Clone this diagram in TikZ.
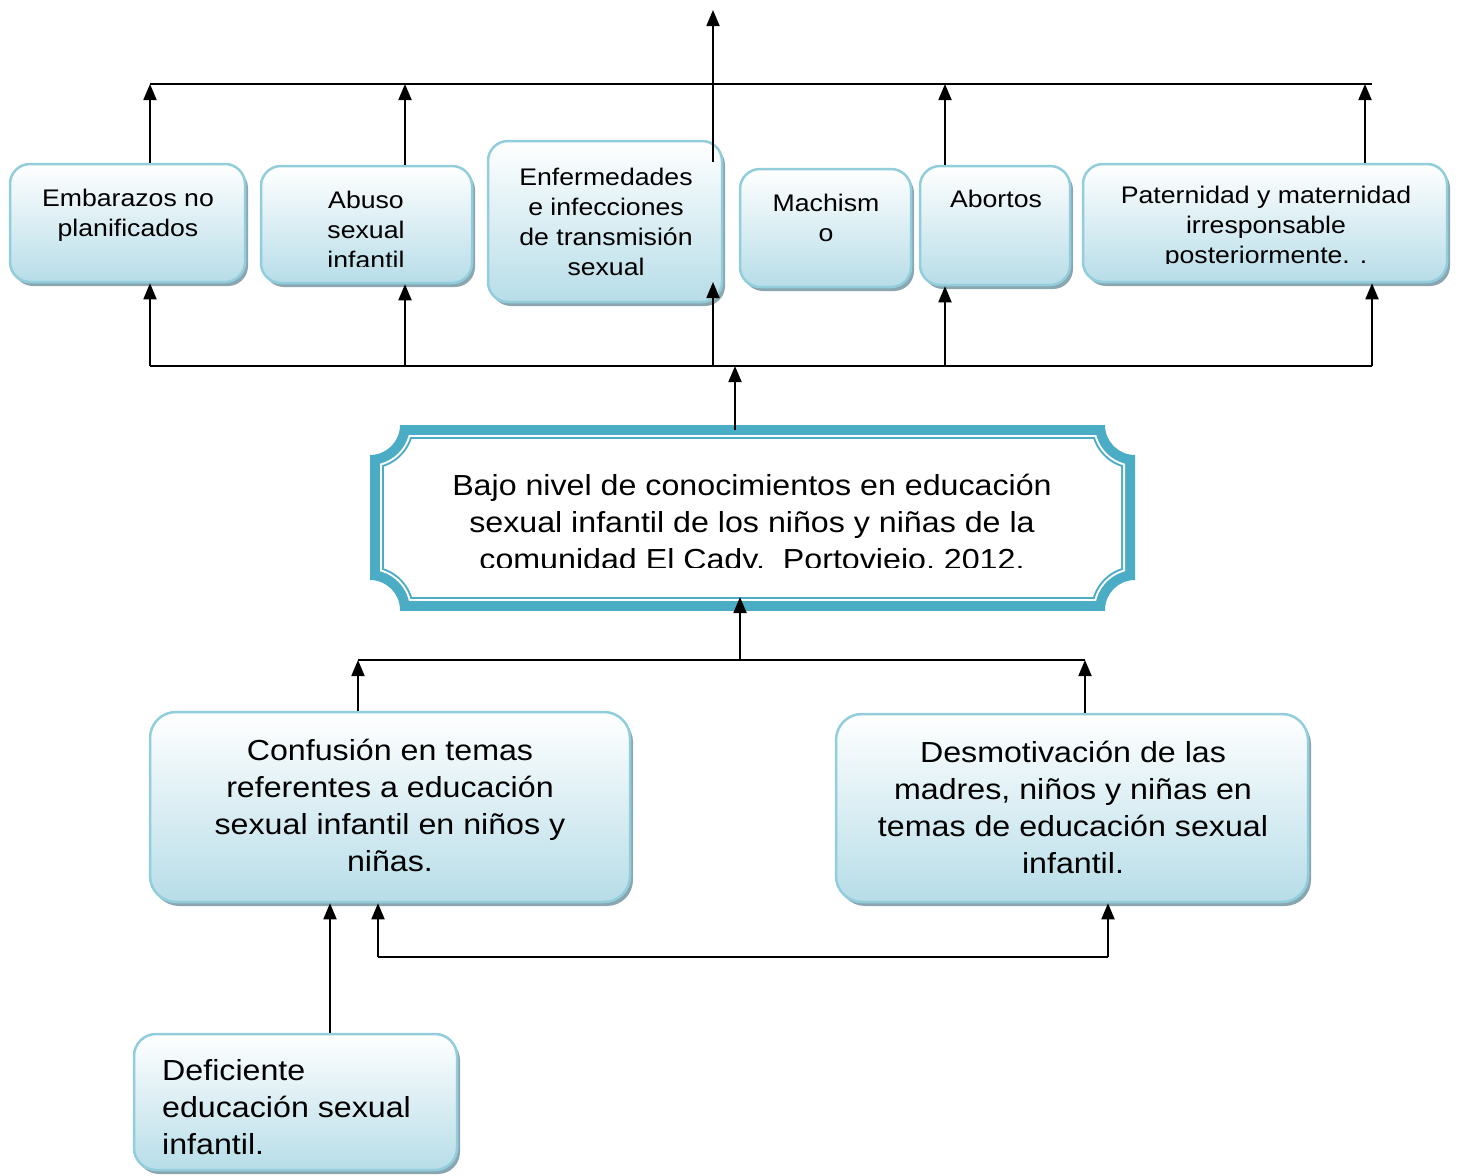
\documentclass[tikz,border=0pt]{standalone}
\usepackage{fontspec}
\setmainfont[FakeStretch=1.11]{Liberation Sans}
\usetikzlibrary{arrows.meta,shadows,calc}
\definecolor{bxborder}{RGB}{146,205,220}
\definecolor{bxbottom}{RGB}{183,221,232}
\definecolor{bxshadow}{RGB}{138,166,176}
\definecolor{plaquec}{RGB}{75,172,198}
\newcommand\plaquefill[2]{%
\begin{scope}
\clip ({370+#1},{425+#1}) rectangle ({1135-#1},{610-#1});
\fill[#2, even odd rule] ({368+#1},{423+#1}) rectangle ({1137-#1},{612-#1})
  (370,425) circle[radius={30pt+#1pt}] (1135,425) circle[radius={30pt+#1pt}]
  (370,610) circle[radius={30pt+#1pt}] (1135,610) circle[radius={30pt+#1pt}];
\end{scope}}
\begin{document}
\begin{tikzpicture}[x=1pt,y=-1pt,
  bx/.style={draw=bxborder, line width=2.5pt, rounded corners=20pt, top color=white, bottom color=bxbottom,
    drop shadow={shadow xshift=3pt,shadow yshift=-4pt,fill=bxshadow,opacity=1}, inner sep=0pt},
  txt/.style={font=\fontsize{24}{30}\selectfont, align=center, inner sep=0pt},
  bigtxt/.style={font=\fontsize{29}{37}\selectfont, align=center, inner sep=0pt},
  ln/.style={line width=1.8pt},
  arr/.style={line width=1.8pt, -{Triangle[width=13pt,length=16pt]}}]
\useasboundingbox (0,0) rectangle (1460,1176);
% top boxes
\node[bx, minimum width=235pt, minimum height=118pt] (emb) at (127.5,223) {};
\node[bx, minimum width=211pt, minimum height=117pt] (abu) at (366.5,224.5) {};
\node[bx, minimum width=234pt, minimum height=161pt] (enf) at (605,221.5) {};
\node[bx, minimum width=171pt, minimum height=118pt] (mac) at (825.5,228) {};
\node[bx, minimum width=150pt, minimum height=119pt] (abo) at (995,225.5) {};
\node[bx, minimum width=364pt, minimum height=118pt] (pat) at (1265,223) {};
\node[txt] (embt) at (128,215) {Embarazos no\\planificados};
\begin{scope}
\clip (261,166) rectangle (472,266);
\node[txt] (abut) at (366,230) {Abuso\\sexual\\infantil};
\end{scope}
\node[txt] (enft) at (606,222) {Enfermedades\\e infecciones\\de transmisión\\sexual};
\node[txt] (mact) at (826,218) {Machism\\o};
\node[txt] (abot) at (996,199) {Abortos};
\begin{scope}
\clip (1083,164) rectangle (1447,263);
\node[txt] (patt) at (1266,227) {Paternidad y maternidad\\irresponsable\\posteriormente. .};
\end{scope}
% central plaque
\node[minimum width=765pt, minimum height=185pt, inner sep=0pt] (prob) at (752.5,517.5) {};
\plaquefill{0}{plaquec}
\plaquefill{10}{white}
\plaquefill{12}{plaquec}
\plaquefill{14}{white}
\begin{scope}
\clip (370,425) rectangle (1135,567);
\node[bigtxt] (probt) at (752,525) {Bajo nivel de conocimientos en educación\\sexual infantil de los niños y niñas de la\\comunidad El Cady.~~Portoviejo, 2012.};
\end{scope}
% bottom boxes
\node[bx, rounded corners=26pt, minimum width=480pt, minimum height=190pt] (conf) at (390,807) {};
\node[bx, rounded corners=26pt, minimum width=472pt, minimum height=188pt] (desm) at (1072,808) {};
\node[bx, rounded corners=22pt, minimum width=323pt, minimum height=136pt] (def) at (295.5,1102) {};
\node[bigtxt] (conft) at (390,805.5) {Confusión en temas\\referentes a educación\\sexual infantil en niños y\\niñas.};
\node[bigtxt] (desmt) at (1073,807) {Desmotivación de las\\madres, niños y niñas en\\temas de educación sexual\\infantil.};
\node[bigtxt, align=left, anchor=west] (deft) at (162,1107) {Deficiente\\educación sexual\\infantil.};
% top connectors
\coordinate (tl) at (150,84); \coordinate (tr) at (1372,84);
\coordinate (ta) at (405,84); \coordinate (tc) at (945,84); \coordinate (td) at (1365,84);
\coordinate (enftop) at (713,162); \coordinate (top) at (713,10);
\draw[ln] (tl) -- (tr);
\draw[arr] (emb.north -| tl) -- (tl);
\draw[arr] (abu.north -| ta) -- (ta);
\draw[arr] (abo.north -| tc) -- (tc);
\draw[arr] (pat.north -| td) -- (td);
\draw[arr] (enftop) -- (top);
% lower connectors of the top row
\coordinate (bl) at (150,366); \coordinate (br) at (1372,366);
\coordinate (ba) at (405,366); \coordinate (bb) at (713,366); \coordinate (bc) at (945,366);
\coordinate (enfin) at (713,282);
\coordinate (pin) at (735,430); \coordinate (bm) at (735,366);
\draw[ln] (bl) -- (br);
\draw[arr] (bl) -- (emb.south -| bl);
\draw[arr] (ba) -- (abu.south -| ba);
\draw[arr] (bb) -- (enfin);
\draw[arr] (bc) -- (abo.south -| bc);
\draw[arr] (br) -- (pat.south -| br);
\draw[arr] (pin) -- (bm);
% middle connectors
\coordinate (ml) at (358,660); \coordinate (mr) at (1085,660); \coordinate (mm) at (740,660);
\coordinate (pbot) at (740,597);
\draw[ln] (ml) -- (mr);
\draw[arr] (mm) -- (pbot);
\draw[arr] (conf.north -| ml) -- (ml);
\draw[arr] (desm.north -| mr) -- (mr);
% bottom connectors
\coordinate (d1) at (330,1035);
\coordinate (l1) at (378,957); \coordinate (l2) at (1108,957);
\draw[arr] (def.north -| d1) -- (conf.south -| d1);
\draw[ln] (l1) -- (l2);
\draw[arr] (l1) -- (conf.south -| l1);
\draw[arr] (l2) -- (desm.south -| l2);
\end{tikzpicture}
\end{document}
